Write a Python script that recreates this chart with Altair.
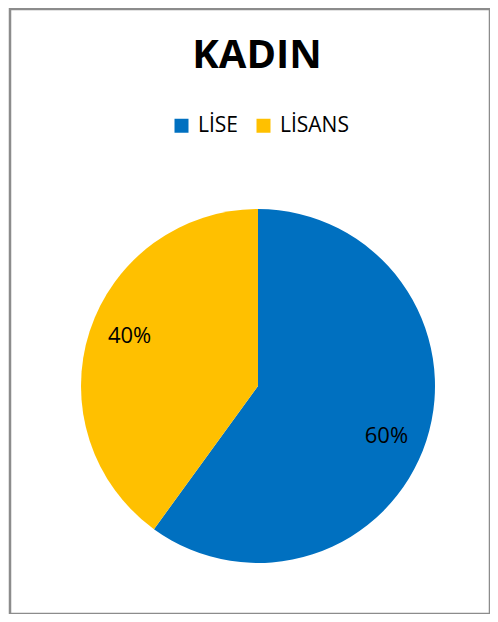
import altair as alt
import pandas as pd

categories = ["LİSE", "LİSANS"]
values = [60, 40]
labels = ["60%", "40%"]
colors = ["#0070C0", "#FFC000"]

df = pd.DataFrame({"kategori": categories, "deger": values, "etiket": labels, "sira": [0, 1]})

base = alt.Chart(df).encode(
    theta=alt.Theta("deger:Q", stack=True),
    order=alt.Order("sira:Q"),
)

pie = base.mark_arc(radius=177, stroke=None).encode(
    x=alt.value(248),
    y=alt.value(377),
    color=alt.Color(
        "kategori:N",
        scale=alt.Scale(domain=categories, range=colors),
        sort=categories,
        legend=alt.Legend(
            title=None,
            orient="none",
            legendX=161,
            legendY=106,
            direction="horizontal",
            symbolType="square",
            symbolSize=196,
            symbolStrokeWidth=0,
            labelFontSize=21,
            labelFont="Open Sans",
            labelColor="#000000",
            labelOffset=6,
            columnPadding=14,
            padding=0,
        ),
    ),
)

text = base.mark_text(radius=138, thetaOffset=0.06, fontSize=22, font="Open Sans", color="#000000").encode(
    x=alt.value(248),
    y=alt.value(377),
    text="etiket:N",
)

chart = (
    alt.layer(pie, text)
    .properties(
        width=480,
        height=605,
        autosize=alt.AutoSizeParams(type="none"),
        padding={"left": 2, "top": 1, "right": 0, "bottom": 0},
        title=alt.TitleParams(
            "KADIN",
            fontSize=40,
            font="Open Sans",
            fontWeight="bold",
            color="#000000",
            anchor="middle",
            orient="top",
            offset=0,
            baseline="alphabetic",
            dy=99,
            dx=7,
        ),
    )
    .configure_view(stroke="#8c8c8c", strokeWidth=2.5)
)

chart.save("out.html", embed_options={"renderer": "svg", "actions": False})
